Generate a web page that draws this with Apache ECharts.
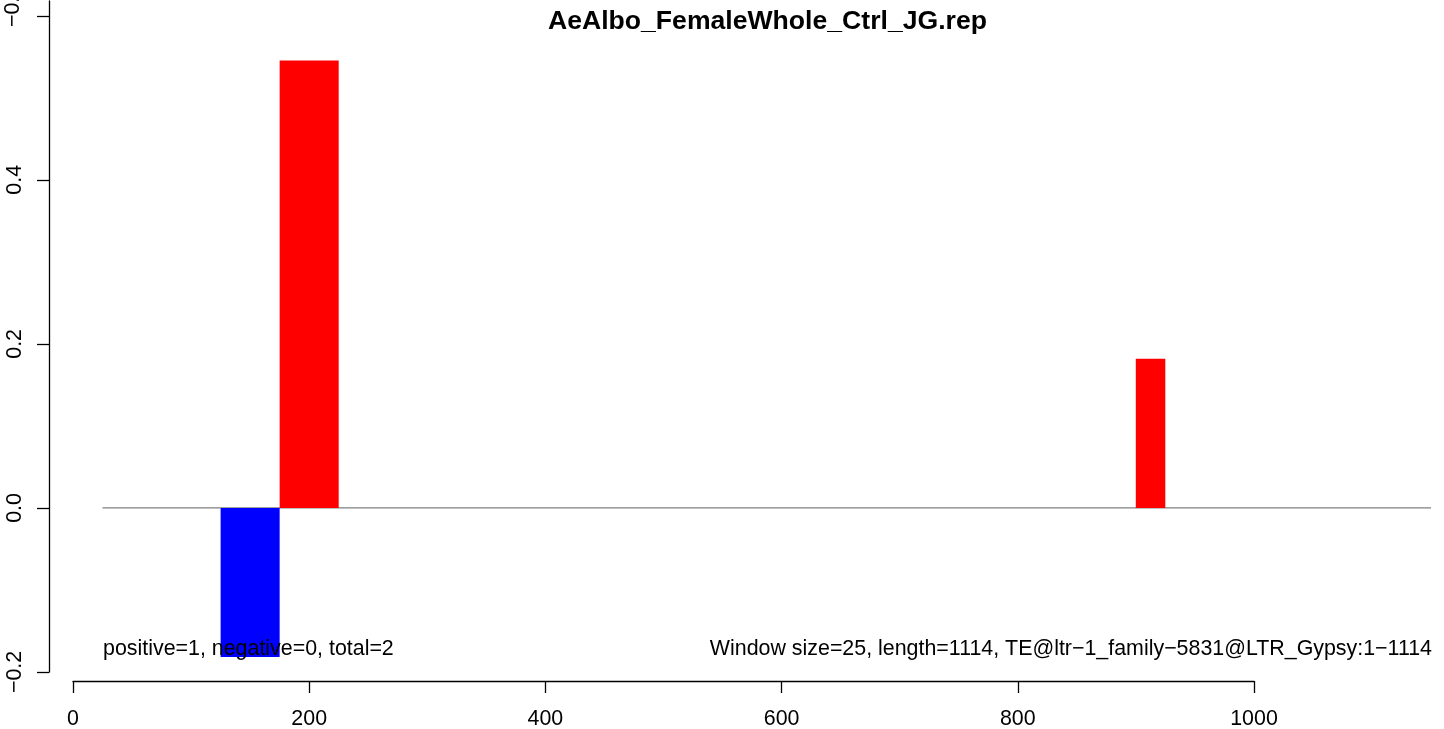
<!DOCTYPE html>
<html><head><meta charset="utf-8">
<script src="https://cdn.jsdelivr.net/npm/echarts@6/dist/echarts.min.js"></script>
<style>html,body{margin:0;padding:0;background:#fff}#c{width:1444px;height:729px}</style>
</head><body><div id="c"></div>
<script>
// Data
var windowStart = [125, 175, 900];
var windowEnd   = [175, 225, 925];
var windowValue = [-0.1818, 0.5454, 0.1818];
var windowColor = ['#0000FF', '#FF0000', '#FF0000'];
var baselineX = [25, 1150];
var xTicks = [0, 200, 400, 600, 800, 1000];
var yTicks = [-0.2, 0.0, 0.2, 0.4];
var yTopLabel = '\u22120.6';
var titleText = 'AeAlbo_FemaleWhole_Ctrl_JG.rep';
var leftNote = 'positive=1, negative=0, total=2';
var rightNote = 'Window size=25, length=1114, TE@ltr\u22121_family\u22125831@LTR_Gypsy:1\u22121114';

var FONT = '"Liberation Sans", Arial, Helvetica, sans-serif';
var chart = echarts.init(document.getElementById('c'));
var barData = windowStart.map(function (s, i) { return [s, windowEnd[i], windowValue[i], i]; });

chart.setOption({
  animation: false,
  backgroundColor: '#fff',
  grid: [
    { left: 73, right: 13, top: 1, bottom: 57, outerBoundsMode: 'none', containLabel: false },
    { left: 73, right: 190, top: 680, bottom: 48, outerBoundsMode: 'none', containLabel: false }
  ],
  xAxis: [
    { type: 'value', gridIndex: 0, min: 0, max: 1150, show: false },
    { type: 'value', gridIndex: 1, min: 0, max: 1000, interval: 200, position: 'bottom',
      axisLine: { show: true, onZero: false, lineStyle: { color: '#000', width: 1.3 } },
      axisTick: { show: true, length: 12, lineStyle: { color: '#000', width: 1.3 } },
      axisLabel: { show: true, margin: 28, color: '#000', fontSize: 21.4, fontFamily: FONT,
        formatter: function (v) { return xTicks.indexOf(v) >= 0 ? String(v) : ''; } },
      splitLine: { show: false } }
  ],
  yAxis: [
    { type: 'value', gridIndex: 0, min: -0.2, max: 0.618, interval: 0.2, offset: 24,
      axisLine: { show: true, onZero: false, lineStyle: { color: '#000', width: 1.3 } },
      axisTick: { show: true, length: 12, lineStyle: { color: '#000', width: 1.3 } },
      axisLabel: { show: true, rotate: 90, margin: 23, color: '#000', fontSize: 21.4, fontFamily: FONT,
        showMaxLabel: false,
        formatter: function (v) {
          var r = Math.round(v * 10) / 10;
          var hit = yTicks.some(function (t) { return Math.abs(t - r) < 1e-9; });
          if (!hit || Math.abs(r - v) > 1e-6) return '';
          return r.toFixed(1).replace('-', '\u2212');
        } },
      splitLine: { show: false } },
    { type: 'value', gridIndex: 1, show: false }
  ],
  series: [
    { type: 'line', xAxisIndex: 0, yAxisIndex: 0, silent: true, symbol: 'none',
      data: baselineX.map(function (x) { return [x, 0]; }),
      lineStyle: { color: '#7f7f7f', width: 1.3 }, z: 1 },
    { type: 'custom', xAxisIndex: 0, yAxisIndex: 0, silent: true,
      data: barData,
      renderItem: function (params, api) {
        var p0 = api.coord([api.value(0), 0]);
        var p1 = api.coord([api.value(1), api.value(2)]);
        var x = Math.min(p0[0], p1[0]), y = Math.min(p0[1], p1[1]);
        return { type: 'rect', shape: { x: x, y: y, width: Math.abs(p1[0] - p0[0]), height: Math.abs(p1[1] - p0[1]) },
          style: { fill: windowColor[api.value(3)] } };
      }, z: 2 }
  ],
  graphic: [
    { type: 'text', left: 548, top: 8, z: 10,
      style: { text: titleText, fontSize: 26.6, fontWeight: 'bold', fontFamily: FONT, fill: '#000' } },
    { type: 'text', x: 13, y: 6, rotation: Math.PI / 2, z: 10,
      style: { text: yTopLabel, fontSize: 21.4, fontFamily: FONT, fill: '#000', align: 'center', verticalAlign: 'middle' } },
    { type: 'text', left: 103, top: 639, z: 10,
      style: { text: leftNote, fontSize: 21.4, fontFamily: FONT, fill: '#000' } },
    { type: 'text', right: 12, top: 639, z: 10,
      style: { text: rightNote, fontSize: 21.4, fontFamily: FONT, fill: '#000' } }
  ]
});
</script></body></html>
